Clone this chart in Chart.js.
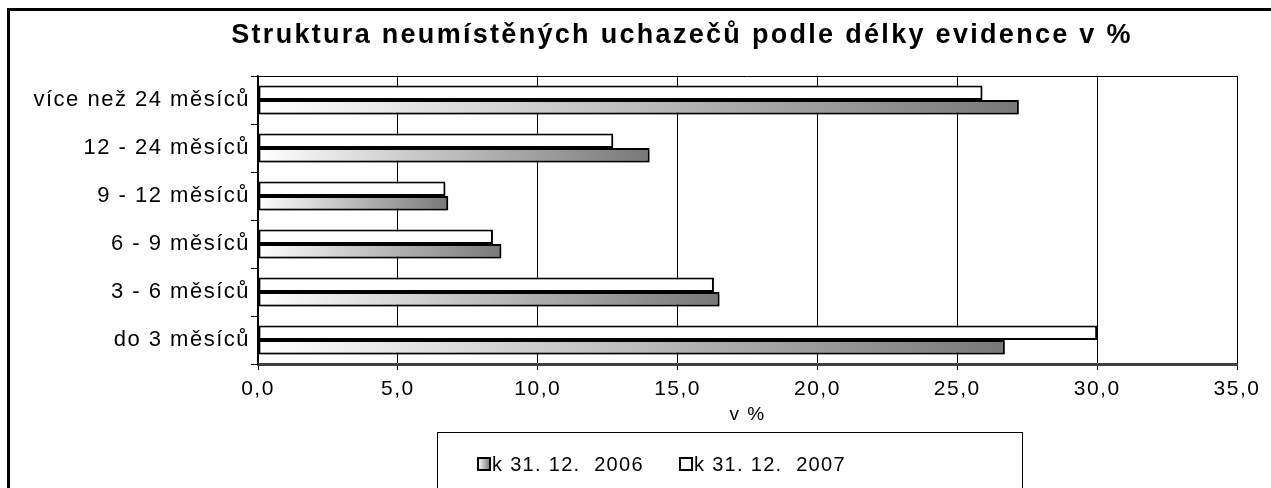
<!DOCTYPE html>
<html>
<head>
<meta charset="utf-8">
<script src="https://cdn.jsdelivr.net/npm/chart.js@4/dist/chart.umd.min.js"></script>
<style>
  html, body { margin: 0; padding: 0; background: #fff; }
  #wrap { width: 1271px; height: 488px; }
</style>
</head>
<body>
<div id="wrap"><canvas id="myChart" width="1271" height="488"></canvas></div>
<script>
const chartTitle = 'Struktura neumístěných uchazečů podle délky evidence v %';
const categories = ['více než 24 měsíců', '12 - 24 měsíců', '9 - 12 měsíců', '6 - 9 měsíců', '3 - 6 měsíců', 'do 3 měsíců'];
const values2006 = [27.2, 14.0, 6.8, 8.7, 16.5, 26.7];
const values2007 = [25.9, 12.7, 6.7, 8.4, 16.3, 30.0];
const seriesLabels = ['k 31. 12.  2006', 'k 31. 12.  2007'];
const xTickValues = [0, 5, 10, 15, 20, 25, 30, 35];
const xAxisTitle = 'v %';

const FONT = "'Liberation Sans', Arial, sans-serif";
Chart.defaults.font.family = FONT;
Chart.defaults.color = '#000';

function barGradient(c) {
  const chart = c.chart;
  if (!chart.chartArea || c.type !== 'data') return '#b0b0b0';
  const x = chart.scales.x;
  const x0 = x.getPixelForValue(0);
  const x1 = x.getPixelForValue(c.raw);
  const g = chart.ctx.createLinearGradient(x0, 0, Math.max(x1, x0 + 1), 0);
  g.addColorStop(0, '#ffffff');
  g.addColorStop(1, '#787878');
  return g;
}

// spaced-out text like the original, plus frame, title and boxed legend
const decor = {
  id: 'decor',
  beforeUpdate(chart) { chart.ctx.letterSpacing = '1.5px'; },
  beforeDraw(chart) { chart.ctx.letterSpacing = '1.5px'; },
  beforeDatasetsDraw(chart) {
    const ctx = chart.ctx;
    ctx.save();
    ctx.strokeStyle = '#000';
    ctx.lineWidth = 1;
    const a = chart.chartArea;
    ctx.beginPath();
    ctx.moveTo(a.left, a.top + 0.5);
    ctx.lineTo(a.right, a.top + 0.5);
    ctx.stroke();
    ctx.restore();
    ctx.shadowColor = 'rgba(0,0,0,0.3)';
    ctx.shadowOffsetX = 1.5;
    ctx.shadowOffsetY = 1.5;
    ctx.shadowBlur = 0;
  },
  afterDatasetsDraw(chart) {
    const ctx = chart.ctx;
    ctx.shadowColor = 'rgba(0,0,0,0)';
    ctx.shadowOffsetX = 0;
    ctx.shadowOffsetY = 0;
  },
  afterDraw(chart) {
    const ctx = chart.ctx;
    ctx.save();
    // outer frame
    ctx.strokeStyle = '#000';
    ctx.lineWidth = 3;
    ctx.strokeRect(8.5, 9.5, 1300, 600);

    // title
    ctx.letterSpacing = '2.3px';
    ctx.font = 'bold 27px ' + FONT;
    ctx.fillStyle = '#000';
    ctx.textAlign = 'center';
    ctx.textBaseline = 'middle';
    ctx.fillText(chartTitle, 682, 36);

    // legend box
    ctx.lineWidth = 1;
    ctx.strokeRect(437.5, 432.5, 585, 100);

    ctx.letterSpacing = '1.3px';
    ctx.font = '20px ' + FONT;
    ctx.textAlign = 'left';
    const order = [1, 0]; // 2006 first, as in the legend of the original
    let lx = 478;
    const ly = 464;
    order.forEach((di) => {
      const ds = chart.data.datasets[di];
      if (di === 1) {
        const g = ctx.createLinearGradient(lx, 0, lx + 12, 0);
        g.addColorStop(0, '#ffffff');
        g.addColorStop(1, '#787878');
        ctx.fillStyle = g;
      } else {
        ctx.fillStyle = '#fff';
      }
      ctx.fillRect(lx, ly - 6, 12, 12);
      ctx.lineWidth = 2;
      ctx.strokeStyle = '#000';
      ctx.strokeRect(lx, ly - 6, 12, 12);
      ctx.fillStyle = '#000';
      ctx.fillText(ds.label, lx + 14, ly + 1);
      lx = 680;
    });
    ctx.restore();
  }
};

const ctx = document.getElementById('myChart').getContext('2d');

new Chart(ctx, {
  type: 'bar',
  data: {
    labels: categories,
    datasets: [{
      label: seriesLabels[1],
      data: values2007,
      backgroundColor: '#ffffff',
      borderColor: '#000',
      borderWidth: 2,
      borderSkipped: false
    }, {
      label: seriesLabels[0],
      data: values2006,
      backgroundColor: barGradient,
      borderColor: '#000',
      borderWidth: 2,
      borderSkipped: false
    }]
  },
  options: {
    indexAxis: 'y',
    responsive: false,
    animation: false,
    devicePixelRatio: 1,
    layout: { padding: { left: 0, right: 34, top: 76, bottom: 62 } },
    datasets: { bar: { categoryPercentage: 0.6, barPercentage: 1.0 } },
    plugins: {
      legend: { display: false },
      title: { display: false },
      tooltip: { enabled: false }
    },
    scales: {
      x: {
        min: 0,
        max: 35,
        afterBuildTicks(scale) { scale.ticks = xTickValues.map(v => ({ value: v })); },
        afterFit(scale) { scale.height = 62; },
        ticks: {
          font: { size: 21 },
          color: '#000',
          padding: 7,
          maxRotation: 0,
          callback: v => v.toFixed(1).replace('.', ',')
        },
        grid: { color: '#000', lineWidth: 1, tickLength: 6 },
        border: { color: '#404040', width: 3 },
        title: {
          display: true,
          text: xAxisTitle,
          font: { size: 19 },
          color: '#000',
          padding: { top: 0, bottom: 0 }
        }
      },
      y: {
        afterFit(scale) { scale.width = 258; },
        ticks: { font: { size: 22 }, color: '#000', padding: 1 },
        grid: { display: true, drawOnChartArea: false, color: '#000', tickLength: 7, offset: true },
        border: { color: '#000', width: 1.5 }
      }
    }
  },
  plugins: [decor]
});
</script>
</body>
</html>
